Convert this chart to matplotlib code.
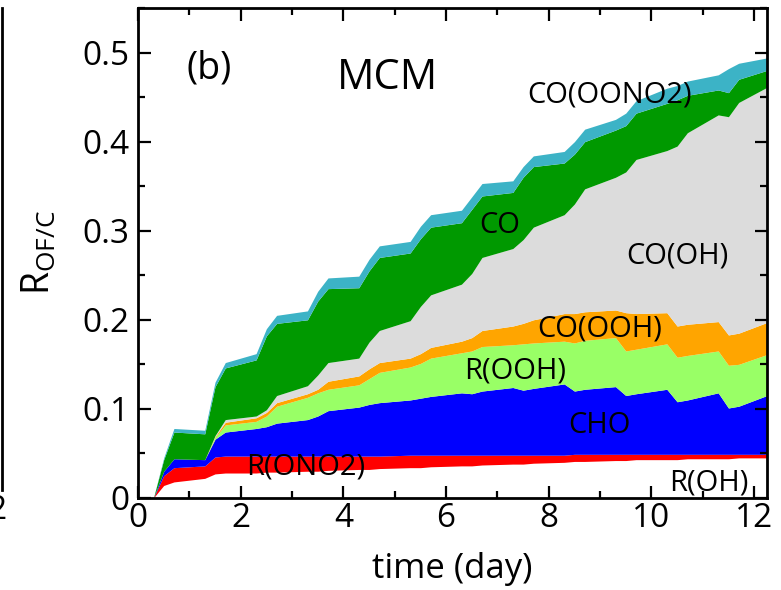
import matplotlib.pyplot as plt
from matplotlib.lines import Line2D
from matplotlib.ticker import MultipleLocator

plt.rcParams['font.family'] = ['Open Sans', 'DejaVu Sans']

# time grid (day)
t = [0, 0.3, 0.5, 0.7, 1.3, 1.5, 1.7, 2.3, 2.5, 2.7, 3.3, 3.5, 3.7,
     4.3, 4.5, 4.7, 5.3, 5.5, 5.7, 6.3, 6.5, 6.7, 7.3, 7.5, 7.7,
     8.3, 8.5, 8.7, 9.3, 9.5, 9.7, 10.3, 10.5, 10.7, 11.3, 11.5, 11.7, 12.25]

# cumulative tops of each stacked group
top_roh = [0, 0, 0.014, 0.018, 0.022, 0.027, 0.028, 0.028, 0.029, 0.029, 0.030, 0.030, 0.031,
           0.032, 0.032, 0.033, 0.034, 0.034, 0.035, 0.036, 0.036, 0.037, 0.038, 0.038, 0.039,
           0.040, 0.041, 0.041, 0.042, 0.042, 0.043, 0.043, 0.043, 0.044, 0.044, 0.044, 0.045, 0.045]
top_rono2 = [0, 0, 0.025, 0.034, 0.036, 0.046, 0.047, 0.047, 0.047, 0.047, 0.047, 0.047, 0.047,
             0.047, 0.047, 0.047, 0.048, 0.048, 0.048, 0.048, 0.048, 0.048, 0.048, 0.048, 0.048,
             0.048, 0.049, 0.049, 0.049, 0.049, 0.049, 0.049, 0.049, 0.049, 0.049, 0.049, 0.049, 0.049]
top_cho = [0, 0, 0.030, 0.044, 0.043, 0.066, 0.074, 0.078, 0.080, 0.084, 0.088, 0.092, 0.098,
           0.102, 0.105, 0.107, 0.110, 0.112, 0.114, 0.118, 0.117, 0.120, 0.124, 0.121, 0.123,
           0.128, 0.120, 0.122, 0.125, 0.115, 0.117, 0.122, 0.108, 0.110, 0.118, 0.101, 0.103, 0.115]
top_rooh = [0, 0, 0.030, 0.044, 0.043, 0.068, 0.082, 0.086, 0.092, 0.103, 0.113, 0.118, 0.122,
            0.127, 0.134, 0.141, 0.147, 0.151, 0.157, 0.163, 0.165, 0.170, 0.172, 0.173, 0.174,
            0.176, 0.174, 0.177, 0.180, 0.165, 0.167, 0.173, 0.158, 0.160, 0.165, 0.149, 0.150, 0.161]
top_coooh = [0, 0, 0.030, 0.044, 0.043, 0.069, 0.085, 0.090, 0.096, 0.107, 0.117, 0.122, 0.131,
             0.137, 0.145, 0.152, 0.157, 0.162, 0.169, 0.176, 0.180, 0.188, 0.193, 0.196, 0.200,
             0.207, 0.207, 0.209, 0.211, 0.208, 0.207, 0.208, 0.193, 0.195, 0.198, 0.183, 0.185, 0.197]
top_cooh = [0, 0, 0.030, 0.044, 0.043, 0.070, 0.088, 0.092, 0.099, 0.115, 0.126, 0.138, 0.152,
            0.157, 0.175, 0.188, 0.199, 0.215, 0.228, 0.240, 0.252, 0.270, 0.280, 0.290, 0.304,
            0.318, 0.330, 0.347, 0.360, 0.366, 0.380, 0.390, 0.395, 0.410, 0.430, 0.428, 0.444, 0.461]
top_co = [0, 0, 0.043, 0.074, 0.072, 0.125, 0.146, 0.155, 0.182, 0.196, 0.200, 0.221, 0.235,
          0.236, 0.255, 0.270, 0.275, 0.291, 0.304, 0.309, 0.324, 0.339, 0.343, 0.360, 0.372,
          0.376, 0.386, 0.400, 0.413, 0.418, 0.432, 0.443, 0.447, 0.452, 0.458, 0.455, 0.470, 0.480]
top_coono2 = [0, 0, 0.045, 0.078, 0.076, 0.130, 0.152, 0.162, 0.190, 0.205, 0.210, 0.232, 0.247,
              0.249, 0.268, 0.283, 0.288, 0.305, 0.318, 0.323, 0.338, 0.353, 0.356, 0.372, 0.384,
              0.389, 0.400, 0.414, 0.425, 0.432, 0.446, 0.460, 0.463, 0.468, 0.475, 0.482, 0.488, 0.494]

groups = ['R(OH)', 'R(ONO2)', 'CHO', 'R(OOH)', 'CO(OOH)', 'CO(OH)', 'CO', 'CO(OONO2)']
tops = [top_roh, top_rono2, top_cho, top_rooh, top_coooh, top_cooh, top_co, top_coono2]
colors = ['#ffffff', '#ff0000', '#0000ff', '#99ff66', '#ffa500', '#dcdcdc', '#009900', '#3cb3c6']

fig = plt.figure(figsize=(7.81, 5.9), dpi=100)
ax = fig.add_axes([0.1767, 0.156, 0.8053, 0.8304])

bottom = [0] * len(t)
for name, top, c in zip(groups, tops, colors):
    ax.fill_between(t, bottom, top, color=c, linewidth=0)
    bottom = top

# group labels
lab = dict(fontsize=21, ha='center', va='center')
ax.text(9.18, 0.452, 'CO(OONO2)', **lab)
ax.text(7.04, 0.306, 'CO', **lab)
ax.text(10.5, 0.272, 'CO(OH)', **lab)
ax.text(8.99, 0.190, 'CO(OOH)', **lab)
ax.text(7.35, 0.143, 'R(OOH)', **lab)
ax.text(8.99, 0.081, 'CHO', **lab)
ax.text(3.26, 0.035, 'R(ONO2)', **lab)
ax.text(11.11, 0.017, 'R(OH)', **lab)

ax.text(1.38, 0.482, '(b)', fontsize=27, ha='center', va='center')
ax.text(4.85, 0.471, 'MCM', fontsize=30, ha='center', va='center')

ax.set_xlim(0, 12.25)
ax.set_ylim(0, 0.55)
ax.xaxis.set_major_locator(MultipleLocator(2))
ax.xaxis.set_minor_locator(MultipleLocator(1))
ax.yaxis.set_major_locator(MultipleLocator(0.1))
ax.yaxis.set_minor_locator(MultipleLocator(0.05))
ax.set_yticks([0, 0.1, 0.2, 0.3, 0.4, 0.5])
ax.set_yticklabels(['0', '0.1', '0.2', '0.3', '0.4', '0.5'])
ax.tick_params(which='both', direction='in', top=True, right=True, width=1.6, labelsize=24)
ax.tick_params(which='major', length=9)
ax.tick_params(which='minor', length=5)
ax.tick_params(axis='x', pad=3)
ax.tick_params(axis='y', pad=6)
for s in ax.spines.values():
    s.set_linewidth(2)

ax.set_xlabel('time (day)', fontsize=25, labelpad=12)
ax.set_ylabel(r'R$_\mathregular{OF/C}$', fontsize=27, labelpad=17)

# edge of the neighbouring panel
fig.add_artist(Line2D([0.003, 0.003], [0.17, 0.987], color='black', linewidth=2))
fig.text(0.010, 0.135, '12', fontsize=24, ha='right', va='center')

fig.savefig('out.png', dpi=100)
